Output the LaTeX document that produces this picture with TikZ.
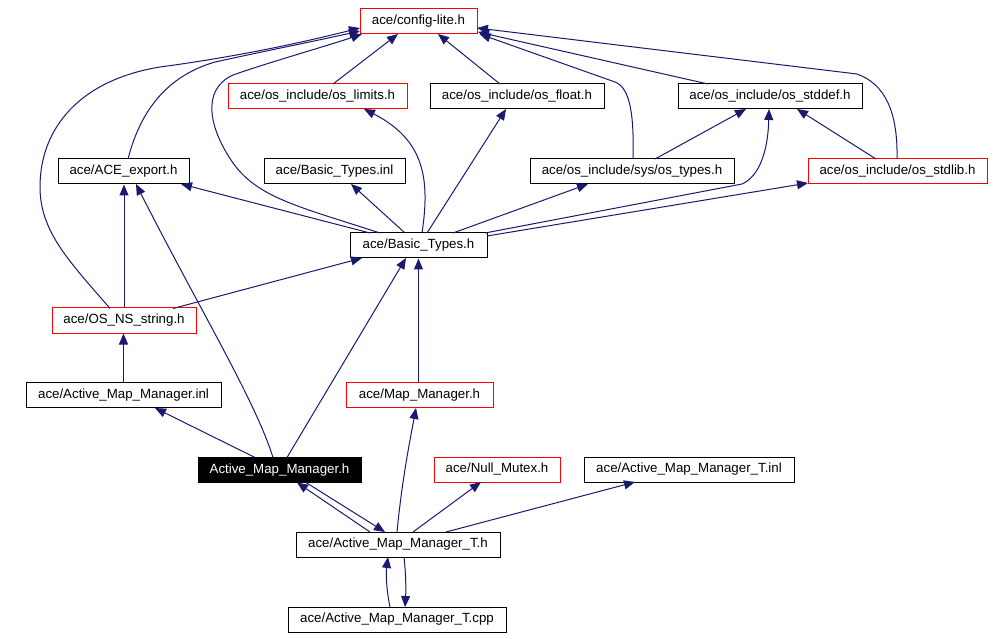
\documentclass[tikz,border=0pt]{standalone}
\usepackage{fontspec}
\setmainfont{Liberation Sans}
\usetikzlibrary{arrows.meta}
\definecolor{edgeblue}{RGB}{25,25,112}
\begin{document}
\begin{tikzpicture}[x=1pt,y=-1pt,
  box/.style={draw=black, line width=1pt, minimum height=25pt, inner sep=0pt,
    font=\fontsize{13.3pt}{16pt}\selectfont, anchor=center},
  redbox/.style={box, draw=red},
  mainbox/.style={box, fill=black, text=white},
  dep/.style={draw=edgeblue, line width=1pt, -{Triangle[length=11pt,width=9pt,fill=edgeblue]}}]
\useasboundingbox[fill=white] (0,0) rectangle (994,639);

% nodes
\node[redbox, minimum width=117pt] (config) at (418.5,21.5) {ace/config-lite.h};
\node[redbox, minimum width=179pt] (limits) at (317.5,96.5) {ace/os\_include/os\_limits.h};
\node[box, minimum width=174pt] (float) at (517,96.5) {ace/os\_include/os\_float.h};
\node[box, minimum width=184pt] (stddef) at (770,96.5) {ace/os\_include/os\_stddef.h};
\node[box, minimum width=131pt] (aceexp) at (123.5,171.5) {ace/ACE\_export.h};
\node[box, minimum width=141pt] (btinl) at (334.5,171.5) {ace/Basic\_Types.inl};
\node[box, minimum width=204pt] (ostypes) at (632,171.5) {ace/os\_include/sys/os\_types.h};
\node[redbox, minimum width=179pt] (stdlib) at (897.5,171.5) {ace/os\_include/os\_stdlib.h};
\node[box, minimum width=137pt] (bth) at (418.5,245.5) {ace/Basic\_Types.h};
\node[redbox, minimum width=144pt] (osns) at (124,320.5) {ace/OS\_NS\_string.h};
\node[box, minimum width=195pt] (amminl) at (123.5,395) {ace/Active\_Map\_Manager.inl};
\node[redbox, minimum width=147pt] (mapmgr) at (419.5,395) {ace/Map\_Manager.h};
\node[mainbox, minimum width=163pt] (amm) at (279.5,470) {Active\_Map\_Manager.h};
\node[redbox, minimum width=126pt] (null) at (497,469.5) {ace/Null\_Mutex.h};
\node[box, minimum width=210pt] (tinl) at (689,469.5) {ace/Active\_Map\_Manager\_T.inl};
\node[box, minimum width=204pt] (th) at (398,544.5) {ace/Active\_Map\_Manager\_T.h};
\node[box, minimum width=218pt] (tcpp) at (397,619.5) {ace/Active\_Map\_Manager\_T.cpp};

% edges into config-lite (left side)
\draw[dep] ([shift={(4.5,-12.5)}]aceexp.center) .. controls (138,120) and (160,78) .. (215,62)
  .. controls (270,50) and (320,40) .. ([shift={(-58.5,9.5)}]config.center);
\draw[dep] ([shift={(-14,-12)}]osns.center) .. controls (70,262) and (40,232) .. (40,187)
  .. controls (40,128) and (80,80) .. (160,67) .. controls (250,55) and (320,38) .. ([shift={(-58.5,6.5)}]config.center);
\draw[dep] ([shift={(-38.5,-12.5)}]bth.center) .. controls (300,207) and (258,198) .. (233,163)
  .. controls (210,130) and (200,90) .. (233,75) .. controls (270,62) and (330,45) .. ([shift={(-56.5,12.5)}]config.center);
\draw[dep] ([shift={(15.5,-12.5)}]limits.center) -- ([shift={(-20.5,12.5)}]config.center);
\draw[dep] ([shift={(-17,-12.5)}]float.center) -- ([shift={(19.5,12.5)}]config.center);
% edges into config-lite (right side)
\draw[dep] ([shift={(-62,-12.5)}]stddef.center) -- ([shift={(59.5,10.5)}]config.center);
\draw[dep] ([shift={(1,-12.5)}]ostypes.center) .. controls (634,118) and (631,88) .. (615,82)
  -- ([shift={(61,12.5)}]config.center);
\draw[dep] ([shift={(-0.5,-12.5)}]stdlib.center) .. controls (898,112) and (885,84) .. (857,74)
  -- ([shift={(58.5,6.5)}]config.center);

% into os_stddef
\draw[dep] ([shift={(23,-12.5)}]ostypes.center) -- ([shift={(-24,12.5)}]stddef.center);
\draw[dep] ([shift={(-21.5,-12.5)}]stdlib.center) -- ([shift={(27,12.5)}]stddef.center);
\draw[dep] ([shift={(66.5,-12.5)}]bth.center) -- (742,184) .. controls (760,176) and (768,150) .. ([shift={(-1,12.5)}]stddef.center);

% from Basic_Types.h
\draw[dep] ([shift={(68.5,-9.5)}]bth.center) -- ([shift={(-89.5,11.5)}]stdlib.center);
\draw[dep] ([shift={(34.5,-12.5)}]bth.center) -- ([shift={(-44,12.5)}]ostypes.center);
\draw[dep] ([shift={(8.5,-12.5)}]bth.center) -- ([shift={(-11,12.5)}]float.center);
\draw[dep] ([shift={(3.5,-12.5)}]bth.center) .. controls (430,180) and (425,140) .. ([shift={(46.5,12.5)}]limits.center);
\draw[dep] ([shift={(-13.5,-12.5)}]bth.center) -- ([shift={(16.5,12.5)}]btinl.center);
\draw[dep] ([shift={(-48.5,-12.5)}]bth.center) -- ([shift={(57.5,12.5)}]aceexp.center);

% OS_NS_string
\draw[dep] ([shift={(49,-12)}]osns.center) -- ([shift={(-56.5,12.5)}]bth.center);
\draw[dep] (osns.north) -- (osns.north |- aceexp.south);
\draw[dep] (amminl.north) -- (amminl.north |- osns.south);

% Active_Map_Manager.h
\draw[dep] ([shift={(-24.5,-12.5)}]amm.center) -- ([shift={(31.5,13)}]amminl.center);
\draw[dep] ([shift={(-6.5,-12.5)}]amm.center) .. controls (255,400) and (200,310) .. ([shift={(12.5,12.5)}]aceexp.center);
\draw[dep] ([shift={(7.5,-12.5)}]amm.center) -- ([shift={(-12.5,12.5)}]bth.center);
\draw[dep] (bth.south |- mapmgr.north) -- (bth.south);

% Active_Map_Manager_T.h
\draw[dep] ([shift={(-28,-12.5)}]th.center) -- ([shift={(17.5,12.5)}]amm.center);
\draw[dep] ([shift={(26.5,12.5)}]amm.center) -- ([shift={(-13,-12.5)}]th.center);
\draw[dep] ([shift={(-1,-12.5)}]th.center) .. controls (402,480) and (410,440) .. ([shift={(-3.5,13)}]mapmgr.center);
\draw[dep] ([shift={(15,-12.5)}]th.center) -- ([shift={(-16,12.5)}]null.center);
\draw[dep] ([shift={(48,-12.5)}]th.center) -- ([shift={(-54,12.5)}]tinl.center);
\draw[dep] ([shift={(-7,-12.5)}]tcpp.center) .. controls (386,588) and (386,572) .. ([shift={(-10,12.5)}]th.center);
\draw[dep] ([shift={(6,12.5)}]th.center) .. controls (406,575) and (406,590) .. ([shift={(8,-12.5)}]tcpp.center);
\end{tikzpicture}
\end{document}
